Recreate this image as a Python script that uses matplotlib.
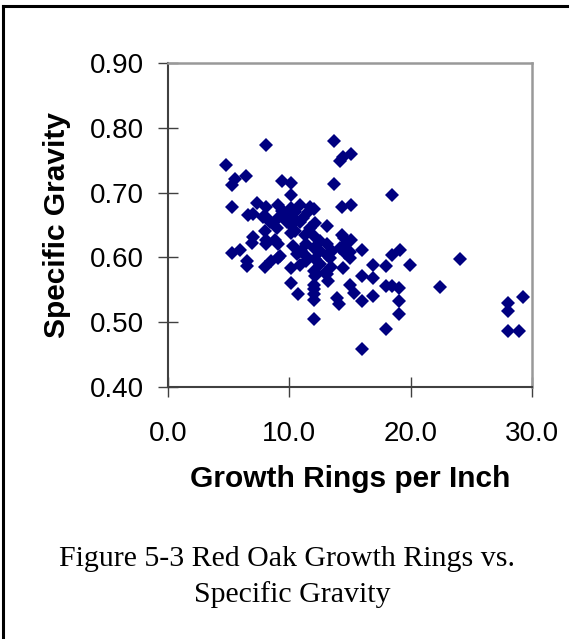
import matplotlib
matplotlib.use("Agg")
import matplotlib.pyplot as plt
from matplotlib.lines import Line2D

# -----------------------------
# DATA
# -----------------------------
rings = [4.8, 5.5, 6.4, 5.25, 9.4, 10.1, 10.1, 13.7, 14.2, 14.4, 15.1, 13.7,
         8.1, 5.25, 7.3, 14.3, 15.1, 6.6, 7.0, 8.1, 9.1, 9.4, 10.1, 10.9,
         11.7, 12.0, 8.4, 10.1, 10.9, 7.85, 8.1, 9.1, 10.2, 11.1, 12.1, 13.1,
         8.0, 9.0, 10.1, 11.3, 12.0, 14.3, 15.1, 7.0, 8.1, 9.1, 10.3, 11.4,
         12.0, 13.1, 13.1, 14.2, 15.0, 8.5, 9.2, 10.6, 11.4, 12.1, 10.1, 10.9,
         12.0, 12.9, 14.45, 15.0, 8.0, 10.1, 10.75, 11.4, 12.0, 12.0, 12.0,
         12.0, 12.1, 12.0, 13.1, 13.2, 13.35, 13.9, 14.1, 15.0, 15.3, 14.5,
         14.5, 14.6, 16.0, 18.45, 19.1, 19.95, 24.1, 16.9, 18.0, 16.0, 16.9,
         18.0, 18.45, 19.0, 22.4, 16.0, 16.9, 19.0, 19.05, 18.0, 16.0, 29.3,
         28.0, 28.0, 28.0, 28.9, 5.25, 5.9, 6.5, 6.5, 6.9, 8.1, 8.8, 9.1,
         18.45, 10.5, 11.7, 12.5, 11.0, 12.5, 13.5, 10.5, 11.5, 12.5, 13.4,
         9.6, 9.8]
sg = [0.743, 0.721, 0.725, 0.711, 0.718, 0.715, 0.697, 0.780, 0.748, 0.755,
      0.760, 0.714, 0.773, 0.678, 0.684, 0.678, 0.681, 0.665, 0.667, 0.678,
      0.681, 0.671, 0.676, 0.681, 0.678, 0.675, 0.655, 0.650, 0.655, 0.663,
      0.663, 0.661, 0.663, 0.661, 0.653, 0.648, 0.640, 0.645, 0.638, 0.635,
      0.633, 0.634, 0.627, 0.632, 0.620, 0.620, 0.617, 0.620, 0.615, 0.620,
      0.604, 0.615, 0.609, 0.594, 0.602, 0.605, 0.602, 0.597, 0.583, 0.589,
      0.579, 0.576, 0.584, 0.599, 0.585, 0.561, 0.543, 0.594, 0.558, 0.551,
      0.543, 0.535, 0.571, 0.505, 0.574, 0.563, 0.599, 0.538, 0.528, 0.557,
      0.545, 0.630, 0.617, 0.607, 0.612, 0.604, 0.612, 0.589, 0.598, 0.589,
      0.586, 0.571, 0.568, 0.556, 0.556, 0.553, 0.555, 0.533, 0.540, 0.533,
      0.512, 0.490, 0.459, 0.539, 0.529, 0.517, 0.486, 0.486, 0.607, 0.611,
      0.594, 0.586, 0.622, 0.627, 0.627, 0.599, 0.696, 0.640, 0.645, 0.625,
      0.610, 0.610, 0.610, 0.670, 0.670, 0.590, 0.585, 0.670, 0.655]

x_ticks = [0, 10, 20, 30]
y_ticks = [0.40, 0.50, 0.60, 0.70, 0.80, 0.90]

# -----------------------------
# PLOT
# -----------------------------
fig = plt.figure(figsize=(5.75, 6.39), dpi=100)
ax = fig.add_axes([0.2922, 0.3944, 0.633, 0.507])

ax.plot(rings, sg, linestyle='none', marker='D', markersize=7.4,
        color='#000080', markeredgewidth=0)

ax.set_xlim(0, 30)
ax.set_ylim(0.40, 0.90)
ax.set_xticks(x_ticks)
ax.set_yticks(y_ticks)
ax.set_xticklabels([f"{v:.1f}" for v in x_ticks])
ax.set_yticklabels([f"{v:.2f}" for v in y_ticks])

for side in ('left', 'bottom'):
    ax.spines[side].set_color('#404040')
    ax.spines[side].set_linewidth(1.5)
for side in ('top', 'right'):
    ax.spines[side].set_color('#999999')
    ax.spines[side].set_linewidth(1.8)

ax.tick_params(direction='inout', length=14.4, width=1, color='#404040',
               labelsize=20, labelcolor='black')
ax.tick_params(axis='y', pad=10)
ax.tick_params(axis='x', pad=17)
for lab in ax.get_xticklabels() + ax.get_yticklabels():
    lab.set_fontfamily('Liberation Sans')

ax.set_xlabel('Growth Rings per Inch', fontsize=21.5, fontweight='bold',
              family='Liberation Sans', labelpad=13)
ax.set_ylabel('Specific Gravity', fontsize=21.5, fontweight='bold',
              family='Liberation Sans', labelpad=14)

fig.text(287 / 575, 1 - 559 / 639, 'Figure 5-3 Red Oak Growth Rings vs.',
         ha='center', va='center', fontsize=21.5, family='Liberation Serif')
fig.text(292 / 575, 1 - 595 / 639, 'Specific Gravity',
         ha='center', va='center', fontsize=21.5, family='Liberation Serif')

# page frame (top and left edges)
fig.add_artist(Line2D([0.005, 0.005], [0.0, 0.991], color='black', lw=2.2))
fig.add_artist(Line2D([0.005, 0.986], [0.991, 0.991], color='black', lw=2.2))

fig.savefig('out.png', dpi=100)
